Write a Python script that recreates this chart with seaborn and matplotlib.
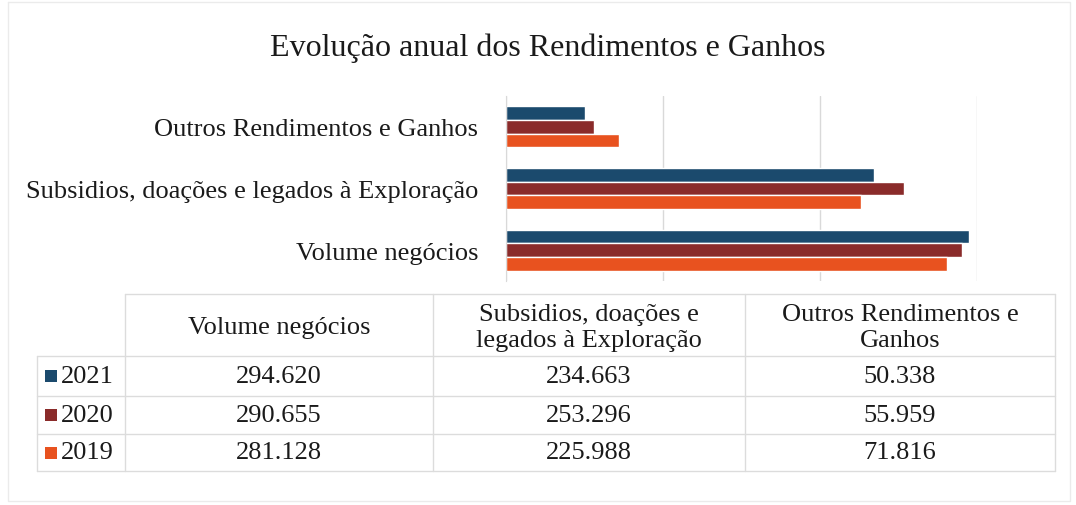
import pandas as pd
import matplotlib.pyplot as plt
import seaborn as sns
from matplotlib.patches import Rectangle

# data
categories = ["Outros Rendimentos e Ganhos",
              "Subsidios, doações e legados à Exploração",
              "Volume negócios"]
years = ["2021", "2020", "2019"]
v2021 = [50338, 234663, 294620]
v2020 = [55959, 253296, 290655]
v2019 = [71816, 225988, 281128]
colors = ["#1b4a6d", "#8a2b2a", "#e8521f"]

# table (columns in table order)
table_cols = ["Volume negócios", "Subsidios, doações e\nlegados à Exploração",
              "Outros Rendimentos e\nGanhos"]
table_rows = [["294.620", "234.663", "50.338"],
              ["290.655", "253.296", "55.959"],
              ["281.128", "225.988", "71.816"]]

rows = []
for y, vals in zip(years, [v2021, v2020, v2019]):
    for c, v in zip(categories, vals):
        rows.append({"cat": c, "year": y, "value": v})
df = pd.DataFrame(rows)

sns.set_style("white")
plt.rcParams["font.family"] = ["Liberation Serif", "DejaVu Serif"]

W, H = 1076, 506
fig = plt.figure(figsize=(W / 100, H / 100), dpi=100)

def box(x0, y0, x1, y1):
    return [x0 / W, 1 - y1 / H, (x1 - x0) / W, (y1 - y0) / H]

fs = 19
ax = fig.add_axes(box(506, 97, 977, 282))
sns.barplot(data=df, y="cat", x="value", hue="year", order=categories,
            hue_order=years, palette=colors, orient="h", width=0.66,
            saturation=1, ax=ax, legend=False)
ax.set_xlim(0, 300000)
ax.set_xticks([0, 100000, 200000, 300000])
ax.xaxis.grid(True, color="#d9d9d9", lw=1)
ax.set_axisbelow(True)
ax.tick_params(axis="x", length=0, labelbottom=False)
ax.tick_params(axis="y", length=0, labelsize=fs, pad=20, colors="#1a1a1a")
ax.set_xlabel("")
ax.set_ylabel("")
for s in ["top", "right", "bottom"]:
    ax.spines[s].set_visible(False)
ax.spines["left"].set_color("#d9d9d9")

fig.text(548 / W, 1 - 48 / H, "Evolução anual dos Rendimentos e Ganhos",
         ha="center", va="center", fontsize=23, color="#1a1a1a")

# overlay in pixel coords for the data table
ov = fig.add_axes([0, 0, 1, 1])
ov.set_xlim(0, W)
ov.set_ylim(H, 0)
ov.axis("off")
ov.patch.set_alpha(0)

lc = "#dcdcdc"
xs = [125, 433, 745, 1055]
ys = [295, 357, 397, 435, 472]
ov.plot([8, 1070, 1070, 8, 8], [3, 3, 502, 502, 3], color="#ebebeb", lw=1)
ov.plot([125, 1055], [ys[0], ys[0]], color=lc, lw=1)
for yy in ys[1:]:
    ov.plot([37, 1055], [yy, yy], color=lc, lw=1)
for xx in xs:
    ov.plot([xx, xx], [ys[0], ys[-1]], color=lc, lw=1)
ov.plot([37, 37], [ys[1], ys[-1]], color=lc, lw=1)

for j, col in enumerate(table_cols):
    cx = (xs[j] + xs[j + 1]) / 2
    ov.text(cx, (ys[0] + ys[1]) / 2 + 2, col, ha="center", va="center",
            fontsize=fs, color="#1a1a1a", linespacing=1.25)
for i, (yr, vals) in enumerate(zip(years, table_rows)):
    cy = (ys[i + 1] + ys[i + 2]) / 2
    ov.add_patch(Rectangle((45, cy - 6), 12, 12, color=colors[i], lw=0))
    ov.text(61, cy, yr, ha="left", va="center", fontsize=fs, color="#1a1a1a")
    for j, v in enumerate(vals):
        cx = (xs[j] + xs[j + 1]) / 2
        ov.text(cx, cy, v, ha="center", va="center", fontsize=fs,
                color="#1a1a1a")

fig.savefig("out.png", dpi=100, facecolor="white")
